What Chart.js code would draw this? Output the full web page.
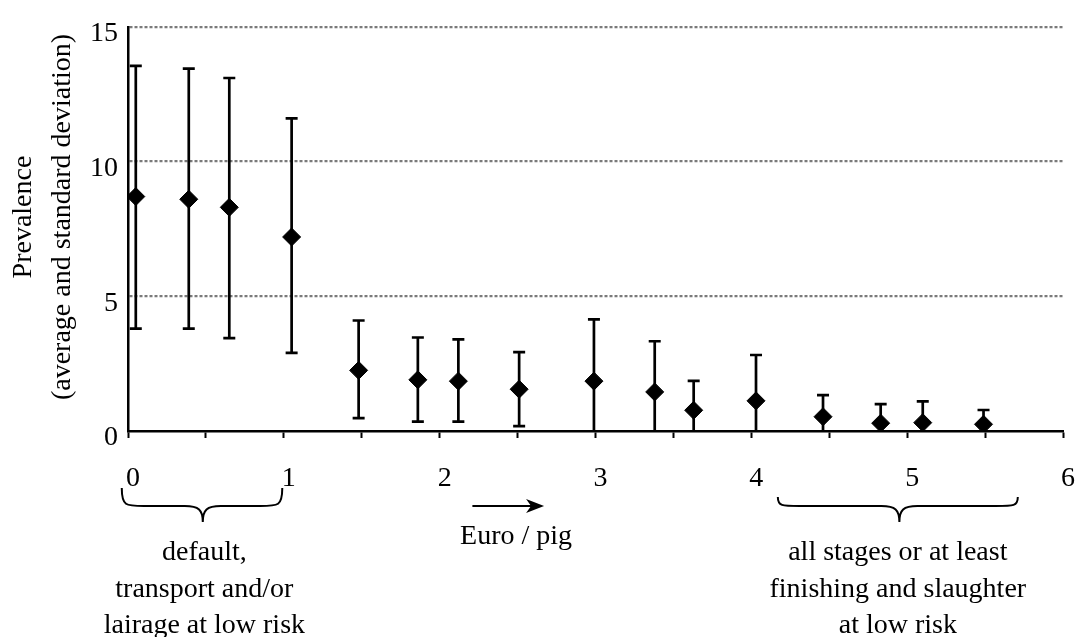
<!DOCTYPE html>
<html>
<head>
<meta charset="utf-8">
<script src="https://cdn.jsdelivr.net/npm/chart.js@4.4.1/dist/chart.umd.min.js"></script>
<style>
  body { margin: 0; background: #fff; }
  #wrap { width: 1076px; height: 637px; }
</style>
</head>
<body>
<div id="wrap"><canvas id="myChart" width="1076" height="637"></canvas></div>
<script>
// values
const euroPerPig = [0.05, 0.39, 0.65, 1.05, 1.48, 1.86, 2.12, 2.51, 2.99, 3.38, 3.63, 4.03, 4.46, 4.83, 5.10, 5.49];
const prevalence = [8.70, 8.60, 8.30, 7.20, 2.25, 1.90, 1.85, 1.55, 1.85, 1.45, 0.77, 1.12, 0.53, 0.29, 0.31, 0.25];
const sdHigh     = [13.55, 13.45, 13.10, 11.60, 4.10, 3.47, 3.40, 2.93, 4.14, 3.33, 1.86, 2.82, 1.33, 1.00, 1.10, 0.78];
const sdLow      = [3.80, 3.80, 3.45, 2.90, 0.48, 0.35, 0.35, 0.18, 0, 0, 0, 0, 0, 0, 0, 0];
const xTickLabels = ['0', '1', '2', '3', '4', '5', '6'];
const yTickLabels = ['0', '5', '10', '15'];

const FONT = '"Liberation Serif", "Times New Roman", serif';

const errorBars = {
    id: 'errorBars',
    beforeDatasetsDraw(chart) {
        const { ctx, scales: { x, y } } = chart;
        ctx.save();
        ctx.strokeStyle = '#000';
        ctx.lineWidth = 2.7;
        for (let i = 0; i < euroPerPig.length; i++) {
            const px = x.getPixelForValue(euroPerPig[i]);
            const top = y.getPixelForValue(sdHigh[i]);
            const bot = y.getPixelForValue(sdLow[i]);
            ctx.beginPath();
            ctx.moveTo(px, top);
            ctx.lineTo(px, bot);
            ctx.moveTo(px - 6, top);
            ctx.lineTo(px + 6, top);
            if (sdLow[i] > 0) {
                ctx.moveTo(px - 6, bot);
                ctx.lineTo(px + 6, bot);
            }
            ctx.stroke();
        }
        ctx.restore();
    }
};

function brace(ctx, x1, x2, xm, yTop, yMid, yTip) {
    ctx.beginPath();
    ctx.moveTo(x1, yTop);
    ctx.bezierCurveTo(x1, yMid, x1 + 4, yMid, x1 + 22, yMid);
    ctx.lineTo(xm - 18, yMid);
    ctx.bezierCurveTo(xm - 4, yMid, xm, yMid + 4, xm, yTip);
    ctx.bezierCurveTo(xm, yMid + 4, xm + 4, yMid, xm + 18, yMid);
    ctx.lineTo(x2 - 22, yMid);
    ctx.bezierCurveTo(x2 - 4, yMid, x2, yMid, x2, yTop);
    ctx.stroke();
}

const annotations = {
    id: 'annotations',
    afterDraw(chart) {
        const { ctx, scales: { x } } = chart;
        ctx.save();
        ctx.fillStyle = '#000';
        ctx.strokeStyle = '#000';
        ctx.font = '28px ' + FONT;
        ctx.textAlign = 'center';
        ctx.textBaseline = 'middle';

        // y axis title
        const titleLines = ['Prevalence', '(average and standard deviation)'];
        [24, 63].forEach((tx, i) => {
            ctx.save();
            ctx.translate(tx, 217);
            ctx.rotate(-Math.PI / 2);
            ctx.fillText(titleLines[i], 0, 0);
            ctx.restore();
        });

        // braces
        ctx.lineWidth = 2;
        brace(ctx, x.getPixelForValue(-0.04), x.getPixelForValue(0.99), x.getPixelForValue(0.48), 488, 506, 522);
        brace(ctx, x.getPixelForValue(4.17), x.getPixelForValue(5.71), x.getPixelForValue(4.95), 497, 506, 522);

        // arrow
        const a1 = x.getPixelForValue(2.21), a2 = x.getPixelForValue(2.67);
        ctx.beginPath();
        ctx.moveTo(a1, 506);
        ctx.lineTo(a2 - 10, 506);
        ctx.stroke();
        ctx.beginPath();
        ctx.moveTo(a2, 506);
        ctx.lineTo(a2 - 18, 499);
        ctx.lineTo(a2 - 13, 506);
        ctx.lineTo(a2 - 18, 513);
        ctx.closePath();
        ctx.fill();
        ctx.fillText('Euro / pig', x.getPixelForValue(2.49), 537);

        // group descriptions
        const leftText = ['default,', 'transport and/or', 'lairage at low risk'];
        const rightText = ['all stages or at least', 'finishing and slaughter', 'at low risk'];
        leftText.forEach((t, i) => ctx.fillText(t, x.getPixelForValue(0.49), 553 + i * 36.5));
        rightText.forEach((t, i) => ctx.fillText(t, x.getPixelForValue(4.94), 553 + i * 36.5));
        ctx.restore();
    }
};

const ctx = document.getElementById('myChart').getContext('2d');

new Chart(ctx, {
    type: 'scatter',
    data: {
        datasets: [{
            label: 'Prevalence',
            data: euroPerPig.map((v, i) => ({ x: v, y: prevalence[i] })),
            pointStyle: 'rectRot',
            pointRadius: 9,
            pointHoverRadius: 9,
            pointBackgroundColor: '#000',
            pointBorderColor: '#000',
            pointBorderWidth: 1
        }]
    },
    options: {
        responsive: false,
        animation: false,
        layout: { padding: { top: 22, right: 13, left: 0, bottom: 0 } },
        plugins: {
            legend: { display: false },
            tooltip: { enabled: false }
        },
        scales: {
            x: {
                type: 'linear',
                min: 0,
                max: 6,
                afterFit: (scale) => {
                    scale.height = 206;
                    scale.paddingLeft = 0;
                    scale.paddingRight = 0;
                },
                ticks: {
                    stepSize: 0.5,
                    autoSkip: false,
                    maxRotation: 0,
                    padding: 24,
                    labelOffset: 5,
                    color: '#000',
                    font: { family: FONT, size: 28 },
                    callback: (v) => Number.isInteger(v) ? xTickLabels[v] : ''
                },
                grid: {
                    drawOnChartArea: false,
                    tickLength: 7,
                    tickWidth: 2,
                    tickColor: '#000'
                },
                border: { color: '#000', width: 2.5 }
            },
            y: {
                min: 0,
                max: 15,
                afterFit: (scale) => { scale.width = 128; },
                ticks: {
                    stepSize: 5,
                    padding: 10,
                    labelOffset: 7,
                    color: '#000',
                    font: { family: FONT, size: 28 },
                    callback: (v) => yTickLabels[v / 5]
                },
                grid: {
                    drawTicks: false,
                    lineWidth: 2.2,
                    color: (c) => c.tick && c.tick.value === 0 ? 'rgba(0,0,0,0)' : '#7a7a7a'
                },
                border: { color: '#000', width: 2.5, dash: [3, 2] }
            }
        }
    },
    plugins: [errorBars, annotations]
});
</script>
</body>
</html>
